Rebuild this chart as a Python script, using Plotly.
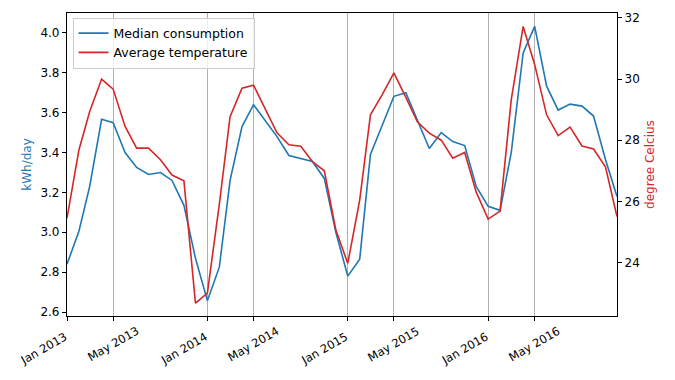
import pandas as pd
import plotly.graph_objects as go

months = pd.date_range("2013-01-01", periods=48, freq="MS")

consumption = [2.84, 3.005, 3.23, 3.567, 3.55, 3.40, 3.325, 3.29, 3.30, 3.26, 3.135, 2.87,
               2.657, 2.825, 3.26, 3.53, 3.64, 3.56, 3.48, 3.385, 3.37, 3.355, 3.27, 3.0,
               2.78, 2.865, 3.39, 3.535, 3.682, 3.70, 3.56, 3.42, 3.50, 3.455, 3.435, 3.23,
               3.13, 3.11, 3.40, 3.90, 4.033, 3.733, 3.613, 3.643, 3.633, 3.583, 3.365, 3.18]

temperature = [25.45, 27.68, 28.94, 30.0, 29.67, 28.45, 27.74, 27.74, 27.36, 26.86, 26.67, 22.67,
               23.0, 25.9, 28.77, 29.7, 29.8, 28.99, 28.24, 27.85, 27.8, 27.3, 27.0, 25.06,
               23.97, 26.04, 28.83, 29.5, 30.2, 29.4, 28.6, 28.23, 28.0, 27.41, 27.6, 26.3,
               25.42, 25.68, 29.32, 31.72, 30.47, 28.83, 28.15, 28.43, 27.81, 27.71, 27.13, 25.5]

# major ticks (January, labels right-aligned) and minor ticks (May, labels centred)
jan_dates = ["2013-01-01", "2014-01-01", "2015-01-01", "2016-01-01"]
jan_labels = ["Jan 2013", "Jan 2014", "Jan 2015", "Jan 2016"]
may_dates = ["2013-05-01", "2014-05-01", "2015-05-01", "2016-05-01"]
may_labels = ["May 2013", "May 2014", "May 2015", "May 2016"]

BLUE = "#1f77b4"
RED = "#d62728"
FONT = "DejaVu Sans"

fig = go.Figure()
fig.add_trace(go.Scatter(x=months, y=consumption, mode="lines", name="Median consumption",
                         line=dict(color=BLUE, width=1.6), yaxis="y"))
fig.add_trace(go.Scatter(x=months, y=temperature, mode="lines", name="Average temperature",
                         line=dict(color=RED, width=1.6), yaxis="y2"))

tick_vals = jan_dates + may_dates
tick_text = jan_labels + [""] * len(may_dates)

for d, lab in zip(may_dates, may_labels):
    fig.add_annotation(x=d, xref="x", y=0, yref="paper", yshift=-28,
                       text=lab, showarrow=False, textangle=-30,
                       xanchor="center", yanchor="middle",
                       font=dict(family=FONT, size=11.5, color="black"))

fig.update_layout(
    width=675, height=380,
    margin=dict(l=67, r=58, t=13, b=64),
    paper_bgcolor="white", plot_bgcolor="white",
    font=dict(family=FONT, size=12, color="black"),
    showlegend=True,
    legend=dict(x=0.01, y=0.985, xanchor="left", yanchor="top",
                bgcolor="rgba(255,255,255,0.8)", bordercolor="#cccccc", borderwidth=1,
                font=dict(family=FONT, size=12.5), tracegroupgap=0, itemwidth=30),
    xaxis=dict(
        type="date", range=["2013-01-01", "2016-12-01"], automargin=False,
        tickvals=tick_vals, ticktext=tick_text, tickangle=-30,
        ticklabelstandoff=5, ticklabelshift=-2,
        showgrid=True, gridcolor="#b0b0b0", gridwidth=0.8,
        showline=True, linecolor="black", linewidth=1.2, mirror=True,
        ticks="outside", ticklen=4, tickcolor="black",
        tickfont=dict(family=FONT, size=11.5), zeroline=False,
    ),
    yaxis=dict(
        range=[2.58, 4.1], tickvals=[2.6, 2.8, 3.0, 3.2, 3.4, 3.6, 3.8, 4.0],
        tickformat=".1f", showgrid=False, zeroline=False, automargin=False,
        showline=True, linecolor="black", linewidth=1.2,
        ticks="outside", ticklen=4, tickcolor="black",
        title=dict(text="kWh/day", font=dict(color=BLUE, family=FONT, size=12), standoff=6),
        tickfont=dict(family=FONT, size=12),
    ),
    yaxis2=dict(
        range=[22.25, 32.16], tickvals=[24, 26, 28, 30, 32],
        overlaying="y", side="right", showgrid=False, zeroline=False, automargin=False,
        showline=True, linecolor="black", linewidth=1.2,
        ticks="outside", ticklen=4, tickcolor="black",
        title=dict(text="degree Celcius", font=dict(color=RED, family=FONT, size=12), standoff=6),
        tickfont=dict(family=FONT, size=12),
    ),
)

fig.write_html("out.html", config={"displayModeBar": False},
               post_script="document.body.style.margin='0px';")
